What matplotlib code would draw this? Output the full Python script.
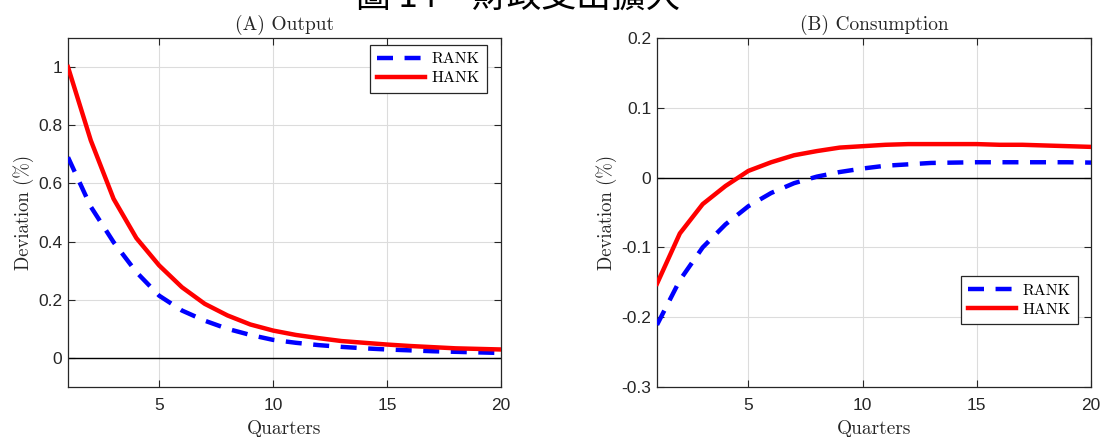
import matplotlib
matplotlib.use("Agg")
import matplotlib.pyplot as plt
from matplotlib.ticker import FuncFormatter, FixedLocator

quarters = list(range(1, 21))

output_rank = [0.69, 0.52, 0.398, 0.295, 0.214, 0.163, 0.128, 0.100, 0.079, 0.062,
               0.052, 0.044, 0.038, 0.033, 0.029, 0.026, 0.023, 0.021, 0.019, 0.017]
output_hank = [1.0, 0.748, 0.547, 0.412, 0.318, 0.243, 0.186, 0.146, 0.115, 0.094,
               0.079, 0.068, 0.058, 0.052, 0.046, 0.041, 0.037, 0.033, 0.031, 0.029]

cons_rank = [-0.211, -0.147, -0.100, -0.067, -0.041, -0.022, -0.008, 0.0014, 0.008, 0.013,
             0.017, 0.019, 0.021, 0.0215, 0.022, 0.022, 0.022, 0.022, 0.022, 0.0215]
cons_hank = [-0.152, -0.080, -0.038, -0.012, 0.0096, 0.022, 0.032, 0.038, 0.043, 0.045,
             0.047, 0.048, 0.048, 0.048, 0.048, 0.047, 0.047, 0.046, 0.045, 0.044]

fig_title = "圖 14　財政支出擴大"
panel_titles = ["(A) Output", "(B) Consumption"]
xlabel = "Quarters"
ylabel = "Deviation (%)"
series_names = ["RANK", "HANK"]
xticks = [5, 10, 15, 20]
yticks_a = [0, 0.2, 0.4, 0.6, 0.8, 1]
yticks_b = [-0.3, -0.2, -0.1, 0, 0.1, 0.2]

W, H = 1118, 437
fig = plt.figure(figsize=(W / 100, H / 100), dpi=100)

serif = ['cmr10', 'DejaVu Serif']
tick_color = '#262626'
LW = 3.2
DASH = (0, (3.6, 2.6))


def fmt(v, pos):
    return '%g' % round(v, 3)


def setup(ax, ylim, yticks, title):
    ax.set_xlim(1, 20)
    ax.set_ylim(*ylim)
    ax.xaxis.set_major_locator(FixedLocator(xticks))
    ax.yaxis.set_major_locator(FixedLocator(yticks))
    ax.yaxis.set_major_formatter(FuncFormatter(fmt))
    ax.xaxis.set_major_formatter(FuncFormatter(fmt))
    ax.grid(True, color='#dcdcdc', lw=0.8)
    ax.set_axisbelow(True)
    ax.tick_params(direction='in', length=5, width=0.8, top=True, right=True,
                   labelsize=12.5, labelcolor=tick_color, colors='#262626')
    ax.tick_params(axis='x', pad=8)
    ax.tick_params(axis='y', pad=4)
    for lab in ax.get_xticklabels() + ax.get_yticklabels():
        lab.set_fontfamily(['Liberation Sans', 'DejaVu Sans'])
    for sp in ax.spines.values():
        sp.set_color('#262626')
        sp.set_linewidth(0.9)
    ax.axhline(0, color='black', lw=1.0, zorder=2)
    ax.set_title(title, fontsize=14, family=serif, pad=6, color='#262626')
    ax.set_xlabel(xlabel, fontsize=14, family=serif, labelpad=5, color='#262626')
    ax.set_ylabel(ylabel, fontsize=13.5, family=serif, labelpad=3, color='#262626')


def add_legend(ax, loc, anchor):
    leg = ax.legend(loc=loc, bbox_to_anchor=anchor, bbox_transform=fig.transFigure,
                    prop={'family': serif, 'size': 11.5},
                    fancybox=False, framealpha=1, edgecolor='#262626',
                    handlelength=3.0, handletextpad=0.4, borderpad=0.45,
                    labelspacing=0.3, borderaxespad=0.0)
    leg.get_frame().set_linewidth(0.9)
    return leg


ax1 = fig.add_axes([68 / W, (H - 387) / H, (501 - 68) / W, 349 / H])
ax1.plot(quarters, output_rank, color='#0000ff', lw=LW, ls=DASH, label=series_names[0], zorder=3)
ax1.plot(quarters, output_hank, color='#ff0000', lw=LW, label=series_names[1], zorder=3)
setup(ax1, (-0.1, 1.1), yticks_a, panel_titles[0])
add_legend(ax1, 'upper right', (487 / W, (H - 45) / H))

ax2 = fig.add_axes([657 / W, (H - 387) / H, (1091 - 657) / W, 349 / H])
ax2.plot(quarters, cons_rank, color='#0000ff', lw=LW, ls=DASH, label=series_names[0], zorder=3)
ax2.plot(quarters, cons_hank, color='#ff0000', lw=LW, label=series_names[1], zorder=3)
setup(ax2, (-0.3, 0.2), yticks_b, panel_titles[1])
add_legend(ax2, 'lower right', (1078 / W, (H - 324) / H))

fig.text(518 / W, 1 - 7 / H, fig_title, ha='center', va='baseline', fontsize=25,
         family=['Noto Sans CJK TC', 'DejaVu Sans'], color='black')

fig.savefig('out.png', dpi=100)
